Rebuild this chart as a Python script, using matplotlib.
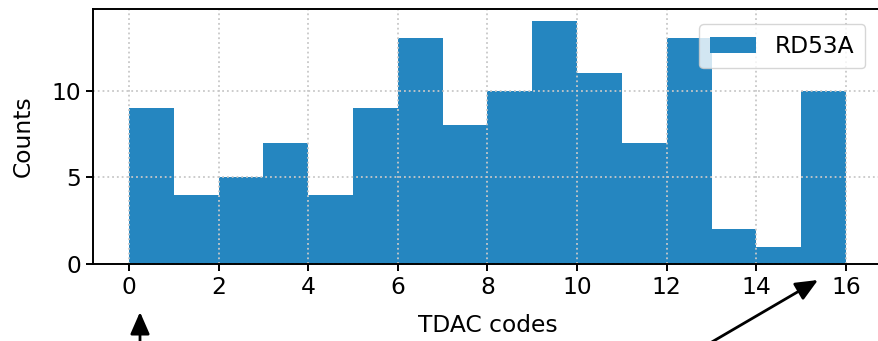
import numpy as np
import matplotlib
matplotlib.use('Agg')
import matplotlib.pyplot as plt

# TDAC code distribution (counts per code)
tdac_codes = np.arange(16)
counts = [9, 4, 5, 7, 4, 9, 13, 8, 10, 14, 11, 7, 13, 2, 1, 10]
bin_edges = np.arange(17)

plt.rcParams['font.size'] = 16.8
plt.rcParams['axes.linewidth'] = 1.4
plt.rcParams['xtick.major.width'] = 1.4
plt.rcParams['ytick.major.width'] = 1.4
plt.rcParams['xtick.major.size'] = 5
plt.rcParams['ytick.major.size'] = 5

fig = plt.figure(figsize=(8.79, 3.41), dpi=100)
ax = fig.add_axes([93/879, 1-264/341, (882-93)/879, (264-9)/341])

ax.hist(tdac_codes, bins=bin_edges, weights=counts, color='#2586c0', label='RD53A')
ax.grid(True, linestyle=':', color='#c8c8c8', linewidth=1.3)
ax.set_axisbelow('line')  # grid over the bars, under the spines
ax.set_xticks(range(0, 17, 2))
ax.set_yticks([0, 5, 10])
ax.set_xlabel('TDAC codes', labelpad=11)
ax.set_ylabel('Counts', labelpad=12)
ax.spines['right'].set_visible(False)
ax.legend(loc='upper right', bbox_to_anchor=(0.9935, 0.985), borderpad=0.45)

# pointers at the two ends of the code range
arrow = dict(arrowstyle='-|>,head_length=0.8,head_width=0.35', color='black', lw=2,
             shrinkA=0, shrinkB=0)
ax.annotate('', xy=(140, 341-312), xytext=(140, -5),
            xycoords='figure pixels', textcoords='figure pixels', arrowprops=arrow)
ax.annotate('', xy=(818, 341-280), xytext=(705, -5),
            xycoords='figure pixels', textcoords='figure pixels', arrowprops=arrow)

fig.savefig('out.png', dpi=100)
